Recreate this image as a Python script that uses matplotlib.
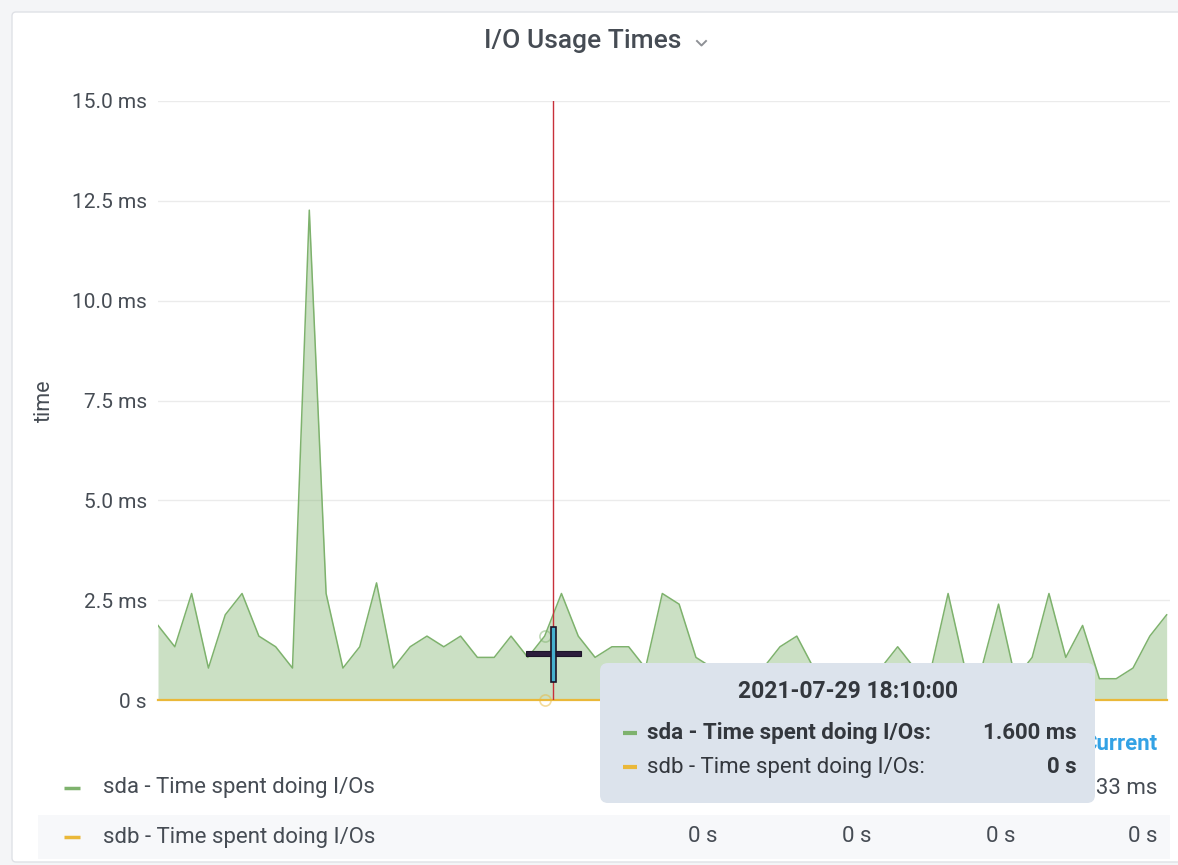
import matplotlib
matplotlib.use("Agg")
import matplotlib.pyplot as plt
from matplotlib.patches import FancyBboxPatch, Rectangle

W, H = 1178, 865

# sda busy time per sample (ms), sdb stayed idle
sda_ms = [
    1.867, 1.333, 2.667, 0.8, 2.133, 2.667, 1.6, 1.333, 0.8, 12.267,
    2.667, 0.8, 1.333, 2.933, 0.8, 1.333, 1.6, 1.333, 1.6, 1.067,
    1.067, 1.6, 1.067, 1.6, 2.667, 1.6, 1.067, 1.333, 1.333, 0.8,
    2.667, 2.4, 1.067, 0.8, 0.8, 0.8, 0.8, 1.333, 1.6, 0.8,
    0.533, 0.8, 0.533, 0.8, 1.333, 0.8, 0.8, 2.667, 0.8, 0.8,
    2.4, 0.533, 1.067, 2.667, 1.067, 1.867, 0.533, 0.533, 0.8, 1.6,
    2.133,
]
sdb_ms = [
    0, 0, 0, 0, 0, 0, 0, 0, 0, 0, 0, 0, 0, 0, 0, 0, 0, 0, 0, 0,
    0, 0, 0, 0, 0, 0, 0, 0, 0, 0, 0, 0, 0, 0, 0, 0, 0, 0, 0, 0,
    0, 0, 0, 0, 0, 0, 0, 0, 0, 0, 0, 0, 0, 0, 0, 0, 0, 0, 0, 0,
    0,
]
series_names = ["sda - Time spent doing I/Os", "sdb - Time spent doing I/Os"]
y_ticks = [0, 2.5, 5, 7.5, 10, 12.5, 15]
y_tick_labels = ["0 s", "2.5 ms", "5.0 ms", "7.5 ms", "10.0 ms", "12.5 ms", "15.0 ms"]
hover_index = 23
hover_time = "2021-07-29 18:10:00"
cursor_x = 23.5

GREEN = "#7eb26d"
YELLOW = "#eab839"
TEXT = "#464c54"
TIP_TEXT = "#33373d"
FONT = ["Roboto", "DejaVu Sans"]

plt.rcParams["font.family"] = FONT


def fmt_ms(v):
    return "0 s" if v == 0 else f"{v:.3f} ms"


fig = plt.figure(figsize=(W / 100, H / 100), dpi=100)
fig.patch.set_facecolor("#f4f5f7")

# page layer in pixel coords (y down)
page = fig.add_axes([0, 0, 1, 1], zorder=0)
page.set_xlim(0, W)
page.set_ylim(H, 0)
page.axis("off")
page.add_patch(FancyBboxPatch((12, 12), W + 20, 850, boxstyle="round,pad=0,rounding_size=4",
                              fc="white", ec="#dfe1e6", lw=1))
page.text(583, 41, "I/O Usage Times", ha="center", va="center", fontsize=19,
          fontweight="medium", color=TEXT)
page.plot([697, 701.5, 706], [41, 45.5, 41], color="#8e9196", lw=1.4)
page.text(44, 401, "time", rotation=90, ha="center", va="center", fontsize=15.5, color=TEXT)

# legend table (only the sorted column header peeks out from behind the tooltip)
col_right = [717, 872, 1015, 1157]
page.text(col_right[-1], 744, "Current", ha="right", va="center", fontsize=16,
          fontweight="bold", color="#33a2e5")
page.add_patch(Rectangle((38, 815), 1132, 44, fc="#f7f8fa", ec="none"))
for row_y, name, vals, color in [(788, series_names[0], sda_ms, GREEN),
                                 (837, series_names[1], sdb_ms, YELLOW)]:
    page.plot([64, 80], [row_y, row_y], color=color, lw=2.5, solid_capstyle="butt")
    page.text(103, row_y, name, ha="left", va="center", fontsize=16, color=TEXT)
    stats = [sum(vals) / len(vals), max(vals), min(vals), vals[-1]]
    for x, v in zip(col_right, stats):
        page.text(x, row_y, fmt_ms(v), ha="right", va="center", fontsize=16, color=TEXT)

# graph
ax = fig.add_axes([158 / W, 1 - 700 / H, 1012 / W, 599 / H], zorder=1)
ax.patch.set_alpha(0)
ax.set_axisbelow(True)
x = list(range(len(sda_ms)))
ax.fill_between(x, sda_ms, 0, color=GREEN, alpha=0.4, lw=0)
ax.plot(x, sda_ms, color=GREEN, lw=1.1)
ax.plot(x, sdb_ms, color=YELLOW, lw=1.6, clip_on=False)
ax.set_xlim(0, 60.2)
ax.set_ylim(0, 15)
ax.set_yticks(y_ticks)
ax.set_yticklabels(y_tick_labels)
ax.set_xticks([])
ax.tick_params(axis="y", length=0, pad=8, labelsize=15, labelcolor=TEXT)
ax.grid(axis="y", color="#ebebeb", lw=1)
for s in ax.spines.values():
    s.set_visible(False)
ax.axvline(cursor_x, color="#c8303a", lw=1)
ax.plot([hover_index], [sda_ms[hover_index]], "o", ms=8, mfc="none", mec=GREEN, mew=1.2,
        alpha=0.5, clip_on=False)
ax.plot([hover_index], [sdb_ms[hover_index]], "o", ms=8, mfc="none", mec=YELLOW, mew=1.2,
        alpha=0.5, clip_on=False)

# overlay: mouse cursor + hover tooltip
top = fig.add_axes([0, 0, 1, 1], zorder=3)
top.set_xlim(0, W)
top.set_ylim(H, 0)
top.axis("off")
top.add_patch(Rectangle((526, 651), 55, 5, fc="#2c1d3d", ec="#1c1428", lw=0.8))
top.add_patch(Rectangle((550.5, 627), 5, 55, fc="#46b0cf", ec="#1c1428", lw=1.2))

top.add_patch(FancyBboxPatch((600, 663), 495, 140, boxstyle="round,pad=0,rounding_size=8",
                             fc="#dce3ec", ec="none"))
top.text(848, 692, hover_time, ha="center", va="center", fontsize=16.5, fontweight="bold",
         color=TIP_TEXT)
tip_rows = [(733, series_names[0], sda_ms[hover_index], GREEN, "bold"),
            (767, series_names[1], sdb_ms[hover_index], YELLOW, "normal")]
for row_y, name, v, color, weight in tip_rows:
    top.plot([623, 637], [row_y, row_y], color=color, lw=3, solid_capstyle="butt")
    top.text(647, row_y, name + ":", ha="left", va="center", fontsize=16, fontweight=weight,
             color=TIP_TEXT)
    top.text(1077, row_y, fmt_ms(v), ha="right", va="center", fontsize=16, fontweight="bold",
             color=TIP_TEXT)

fig.savefig("out.png", dpi=100, facecolor=fig.get_facecolor())
